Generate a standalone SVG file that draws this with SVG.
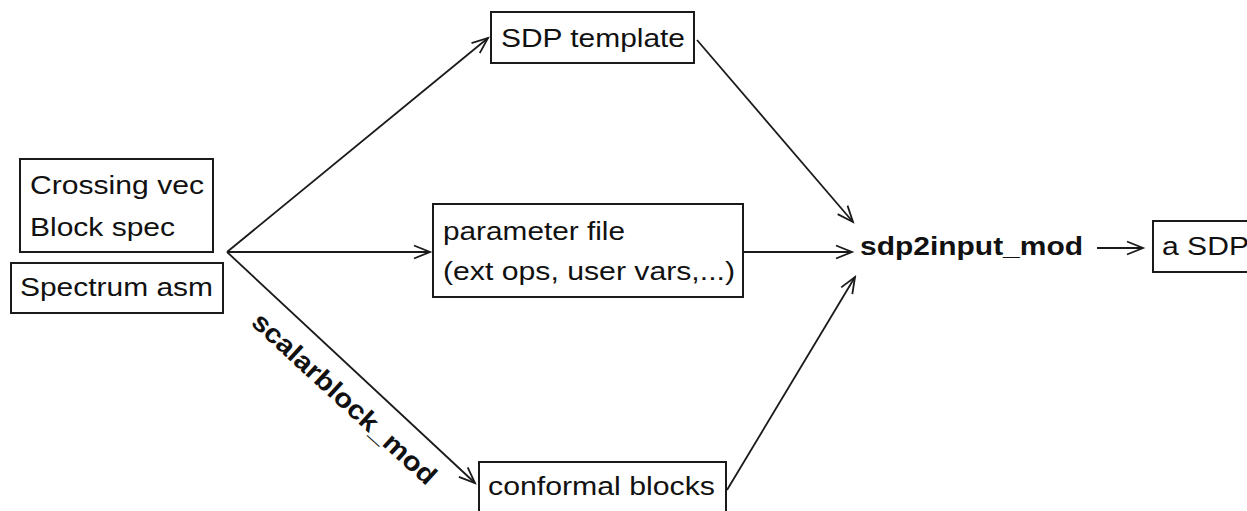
<svg xmlns="http://www.w3.org/2000/svg" width="1247" height="511" viewBox="0 0 1247 511">
  <style>
    .box { fill: #ffffff; stroke: #1a1a1a; stroke-width: 2; }
    .lbl { font-family: "Liberation Sans", Arial, sans-serif; font-size: 26.5px; fill: #111111; }
    .bold { font-weight: bold; }
    .edge { fill: none; stroke: #1a1a1a; stroke-width: 1.8; marker-end: url(#arrow); }
  </style>
  <defs>
    <marker id="arrow" markerUnits="userSpaceOnUse" markerWidth="24" markerHeight="20" viewBox="-18 -10 20 20" refX="0" refY="0" orient="auto">
      <path d="M-16,-6.5 L0,0 L-16,6.5" fill="none" stroke="#1a1a1a" stroke-width="1.8"/>
    </marker>
  </defs>
  <rect width="1247" height="511" fill="#ffffff"/>

  <!-- connectors -->
  <g id="connectors">
    <line class="edge" x1="227" y1="252" x2="488" y2="38"/>
    <line class="edge" x1="227" y1="252" x2="430" y2="252"/>
    <line class="edge" x1="227" y1="252" x2="475" y2="483"/>
    <line class="edge" x1="697" y1="40" x2="853" y2="222"/>
    <line class="edge" x1="743" y1="252" x2="852" y2="252"/>
    <line class="edge" x1="727" y1="490" x2="855" y2="277"/>
    <line class="edge" x1="1097" y1="248" x2="1143" y2="248"/>
    <text class="lbl bold" transform="translate(250,324) rotate(42.6)" textLength="240" lengthAdjust="spacingAndGlyphs">scalarblock_mod</text>
  </g>

  <!-- inputs -->
  <g id="node-inputs">
    <rect class="box" x="20" y="159" width="193" height="93"/>
    <text class="lbl" x="30" y="194" textLength="174" lengthAdjust="spacingAndGlyphs">Crossing vec</text>
    <text class="lbl" x="30" y="236" textLength="145" lengthAdjust="spacingAndGlyphs">Block spec</text>
  </g>
  <g id="node-spectrum">
    <rect class="box" x="11" y="263" width="212" height="50"/>
    <text class="lbl" x="20" y="296" textLength="193" lengthAdjust="spacingAndGlyphs">Spectrum asm</text>
  </g>

  <g id="node-template">
    <rect class="box" x="491" y="12" width="203" height="51"/>
    <text class="lbl" x="501" y="47" textLength="184" lengthAdjust="spacingAndGlyphs">SDP template</text>
  </g>

  <g id="node-params">
    <rect class="box" x="433" y="204" width="310" height="93"/>
    <text class="lbl" x="443" y="240" textLength="182" lengthAdjust="spacingAndGlyphs">parameter file</text>
    <text class="lbl" x="443" y="280" textLength="292" lengthAdjust="spacingAndGlyphs">(ext ops, user vars,...)</text>
  </g>

  <g id="node-blocks">
    <rect class="box" x="479" y="462" width="247" height="60"/>
    <text class="lbl" x="488" y="495" textLength="227" lengthAdjust="spacingAndGlyphs">conformal blocks</text>
  </g>

  <g id="node-sdp2input">
    <text class="lbl bold" x="860" y="255" textLength="223" lengthAdjust="spacingAndGlyphs">sdp2input_mod</text>
  </g>

  <g id="node-output">
    <rect class="box" x="1153" y="221" width="120" height="51"/>
    <text class="lbl" x="1162" y="255" textLength="87" lengthAdjust="spacingAndGlyphs">a SDP</text>
  </g>
</svg>
